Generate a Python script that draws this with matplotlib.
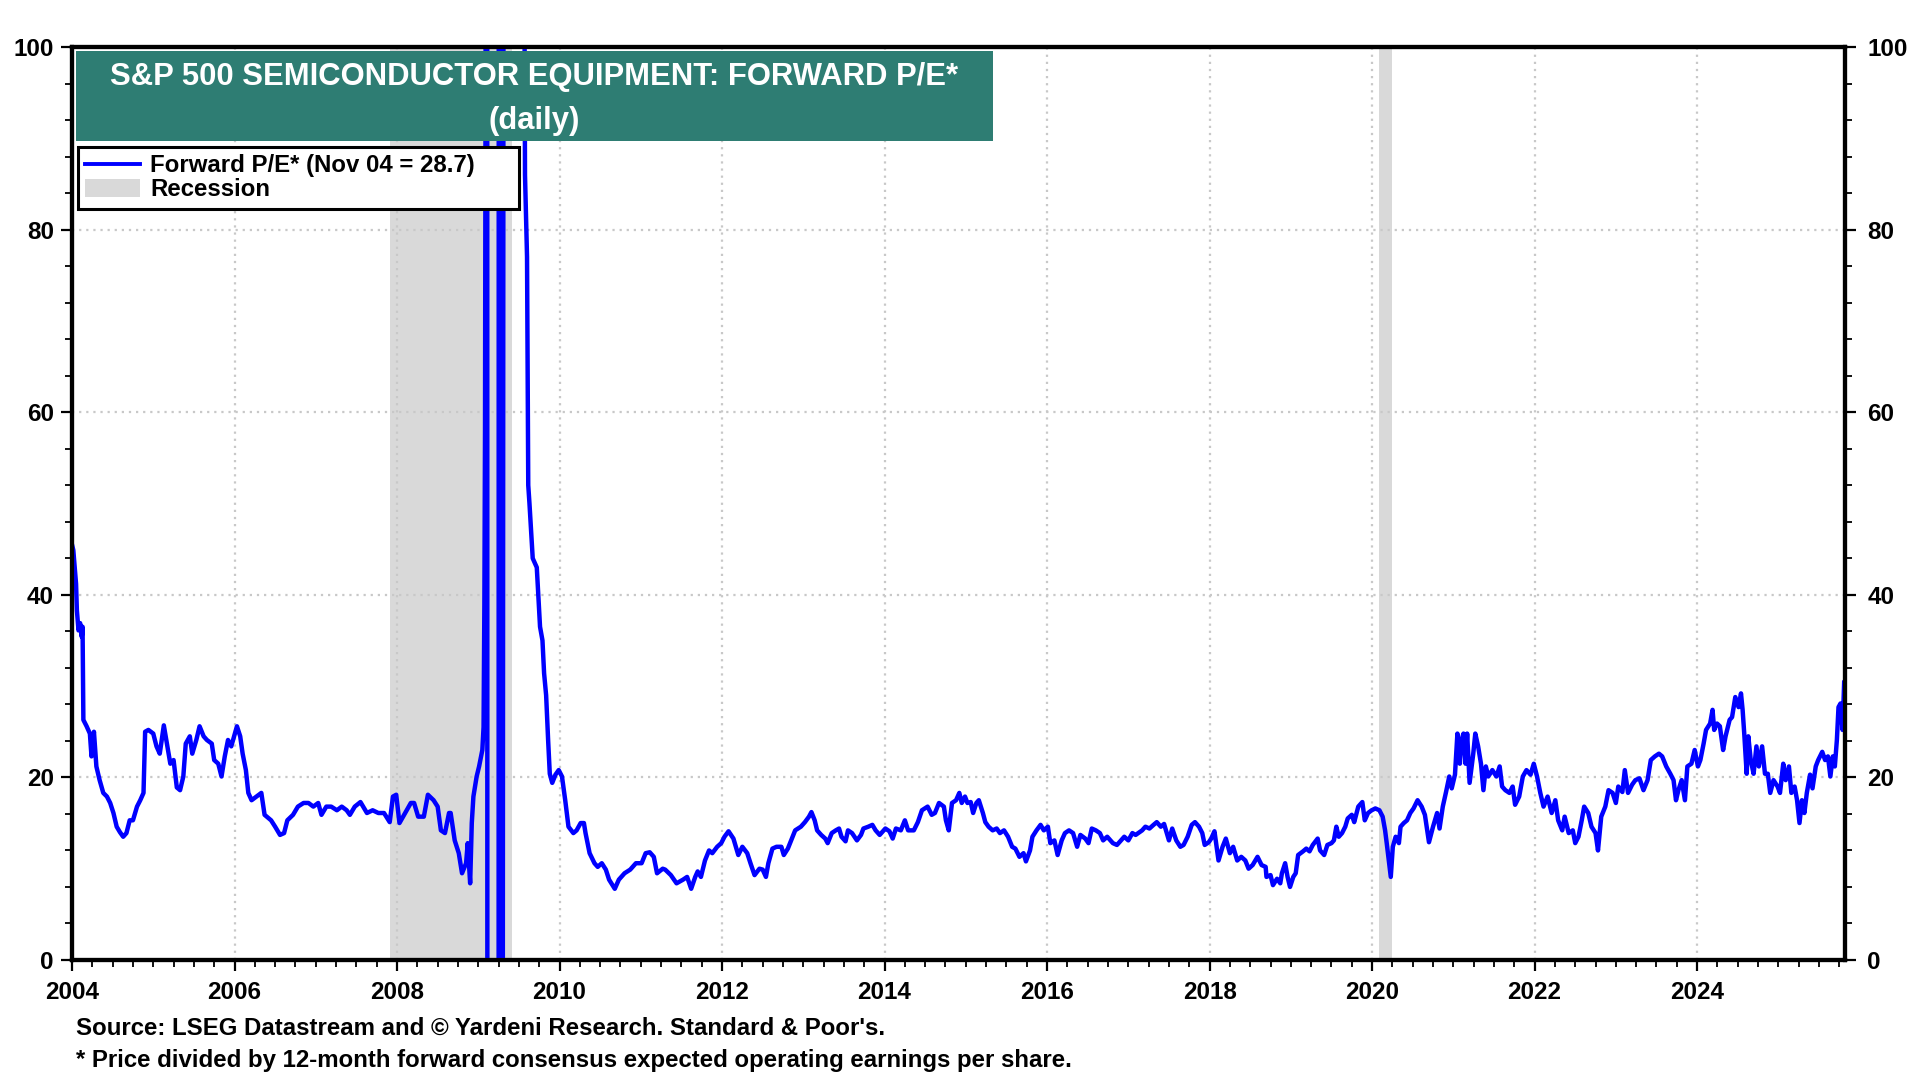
import numpy as np
import matplotlib
matplotlib.use("Agg")
import matplotlib.pyplot as plt
from matplotlib.patches import Rectangle, Patch
from matplotlib.lines import Line2D
from matplotlib.ticker import MultipleLocator

# forward P/E, dates as decimal years
years_04_08 = [
    2004.000, 2004.016, 2004.050, 2004.060, 2004.080, 2004.100, 2004.120, 2004.130,
    2004.140, 2004.180, 2004.220, 2004.240, 2004.270, 2004.300, 2004.340, 2004.385,
    2004.430, 2004.470, 2004.510, 2004.550, 2004.590, 2004.630, 2004.670, 2004.710,
    2004.750, 2004.800, 2004.840, 2004.880, 2004.900, 2004.940, 2005.000, 2005.040,
    2005.080, 2005.130, 2005.160, 2005.210, 2005.250, 2005.290, 2005.330, 2005.370,
    2005.400, 2005.450, 2005.480, 2005.530, 2005.570, 2005.620, 2005.660, 2005.720,
    2005.750, 2005.800, 2005.840, 2005.880, 2005.920, 2005.960, 2006.030, 2006.070,
    2006.100, 2006.140, 2006.170, 2006.210, 2006.270, 2006.330, 2006.370, 2006.450,
    2006.500, 2006.560, 2006.610, 2006.650, 2006.720, 2006.780, 2006.850, 2006.910,
    2006.970, 2007.030, 2007.070, 2007.130, 2007.190, 2007.260, 2007.320, 2007.380,
    2007.420, 2007.480, 2007.550, 2007.630, 2007.700, 2007.770, 2007.840, 2007.910,
    2007.950, 2007.990, 2008.030, 2008.100, 2008.170, 2008.210, 2008.260, 2008.330,
    2008.380, 2008.450, 2008.500, 2008.540, 2008.590, 2008.640, 2008.660, 2008.710,
    2008.760, 2008.800, 2008.850, 2008.870, 2008.900, 2008.920, 2008.940, 2008.980,
]
pe_04_08 = [
    45.5, 44.9, 41.2, 38.3, 36.1, 36.9, 35.4, 36.5,
    26.3, 25.6, 24.8, 22.3, 25.0, 21.2, 19.7, 18.3,
    17.9, 17.2, 16.1, 14.6, 14.0, 13.5, 13.9, 15.3,
    15.3, 16.8, 17.5, 18.3, 25.0, 25.2, 24.8, 23.4,
    22.6, 25.7, 24.1, 21.5, 21.9, 18.9, 18.6, 20.1,
    23.7, 24.5, 22.6, 24.1, 25.6, 24.5, 24.1, 23.7,
    21.9, 21.5, 20.1, 22.3, 24.1, 23.4, 25.6, 24.5,
    22.6, 20.8, 18.3, 17.5, 17.9, 18.3, 15.9, 15.3,
    14.6, 13.7, 13.9, 15.3, 15.9, 16.8, 17.2, 17.2,
    16.8, 17.2, 15.9, 16.8, 16.8, 16.4, 16.8, 16.4,
    15.9, 16.8, 17.3, 16.1, 16.4, 16.1, 16.1, 15.1,
    17.9, 18.1, 15.0, 16.1, 17.2, 17.2, 15.7, 15.7,
    18.1, 17.5, 16.8, 14.2, 13.9, 16.1, 16.1, 13.1,
    11.7, 9.5, 10.6, 12.8, 8.4, 15.0, 17.9, 20.1,
]

# early 2009: earnings near zero, ratio swings far outside the 0-100 scale
years_09_10 = [
    2009.010, 2009.050, 2009.065, 2009.075, 2009.083, 2009.095, 2009.110, 2009.112,
    2009.250, 2009.252, 2009.266, 2009.268, 2009.283, 2009.285, 2009.298, 2009.300,
    2009.312, 2009.560, 2009.575, 2009.600,
    2009.615, 2009.630, 2009.650, 2009.670, 2009.720, 2009.745, 2009.760, 2009.790,
    2009.810, 2009.835, 2009.860, 2009.880, 2009.910, 2009.950, 2009.990, 2010.030,
    2010.070, 2010.110, 2010.170, 2010.210, 2010.260, 2010.300, 2010.320, 2010.370,
    2010.430, 2010.470, 2010.520, 2010.570, 2010.610, 2010.680, 2010.730, 2010.800,
    2010.870, 2010.940, 2011.010, 2011.060, 2011.110, 2011.160, 2011.200,
]
pe_09_10 = [
    21.2, 23.0, 25.5, 39.0, 58.0, 130.0, 130.0, -30.0,
    -30.0, 130.0, 130.0, -30.0, -30.0, 130.0, 130.0, -30.0,
    130.0, 130.0, 86.0, 77.0,
    52.0, 50.0, 47.0, 44.0, 43.0, 39.0, 36.5, 35.0,
    31.4, 29.0, 24.0, 20.4, 19.4, 20.3, 20.8, 20.1,
    17.5, 14.6, 13.9, 14.2, 15.0, 15.0, 13.9, 11.7,
    10.6, 10.2, 10.6, 9.9, 8.8, 7.8, 8.8, 9.5,
    9.9, 10.6, 10.6, 11.7, 11.8, 11.3, 9.5,
]

years_11_18 = [
    2011.270, 2011.300, 2011.370, 2011.440, 2011.520, 2011.570, 2011.620, 2011.670,
    2011.700, 2011.740, 2011.790, 2011.840, 2011.880, 2011.940, 2011.990, 2012.030,
    2012.080, 2012.140, 2012.200, 2012.250, 2012.310, 2012.350, 2012.400, 2012.460,
    2012.500, 2012.540, 2012.570, 2012.620, 2012.670, 2012.730, 2012.760, 2012.810,
    2012.860, 2012.900, 2012.970, 2013.020, 2013.070, 2013.100, 2013.140, 2013.170,
    2013.220, 2013.270, 2013.300, 2013.350, 2013.400, 2013.440, 2013.470, 2013.520,
    2013.550, 2013.600, 2013.660, 2013.710, 2013.740, 2013.800, 2013.850, 2013.890,
    2013.940, 2014.010, 2014.060, 2014.100, 2014.140, 2014.200, 2014.250, 2014.290,
    2014.360, 2014.410, 2014.460, 2014.530, 2014.580, 2014.620, 2014.670, 2014.730,
    2014.755, 2014.790, 2014.830, 2014.880, 2014.920, 2014.950, 2014.990, 2015.020,
    2015.060, 2015.090, 2015.130, 2015.160, 2015.210, 2015.240, 2015.280, 2015.330,
    2015.380, 2015.420, 2015.470, 2015.520, 2015.570, 2015.610, 2015.660, 2015.710,
    2015.740, 2015.790, 2015.820, 2015.870, 2015.920, 2015.960, 2016.010, 2016.040,
    2016.090, 2016.130, 2016.180, 2016.220, 2016.270, 2016.320, 2016.370, 2016.410,
    2016.470, 2016.510, 2016.550, 2016.600, 2016.650, 2016.690, 2016.740, 2016.810,
    2016.860, 2016.910, 2016.950, 2017.000, 2017.050, 2017.090, 2017.170, 2017.210,
    2017.260, 2017.310, 2017.350, 2017.400, 2017.440, 2017.500, 2017.540, 2017.590,
    2017.640, 2017.680, 2017.730, 2017.780, 2017.820, 2017.870, 2017.910, 2017.940,
    2017.990, 2018.020, 2018.060, 2018.110, 2018.160, 2018.200, 2018.250, 2018.290,
    2018.340, 2018.390, 2018.440, 2018.480, 2018.530,
]
pe_11_18 = [
    10.0, 9.9, 9.3, 8.4, 8.8, 9.1, 7.8, 9.1,
    9.7, 9.1, 10.9, 12.0, 11.7, 12.4, 12.8, 13.5,
    14.1, 13.3, 11.5, 12.4, 11.7, 10.6, 9.3, 10.0,
    9.9, 9.1, 10.6, 12.2, 12.4, 12.4, 11.5, 12.2,
    13.3, 14.2, 14.6, 15.1, 15.7, 16.2, 15.3, 14.2,
    13.7, 13.3, 12.8, 13.9, 14.2, 14.4, 13.5, 13.0,
    14.2, 13.9, 13.1, 13.7, 14.4, 14.6, 14.8, 14.2,
    13.7, 14.4, 14.1, 13.3, 14.4, 14.2, 15.3, 14.2,
    14.2, 15.1, 16.4, 16.8, 15.9, 16.1, 17.2, 16.8,
    15.3, 14.2, 17.2, 17.5, 18.3, 17.2, 17.9, 17.2,
    17.3, 16.1, 17.2, 17.5, 16.1, 15.1, 14.6, 14.2,
    14.4, 13.9, 14.2, 13.5, 12.4, 12.2, 11.3, 11.7,
    10.8, 12.0, 13.5, 14.2, 14.8, 14.2, 14.6, 12.8,
    13.1, 11.5, 13.1, 13.9, 14.2, 13.9, 12.4, 13.7,
    13.3, 12.8, 14.4, 14.2, 13.9, 13.1, 13.5, 12.8,
    12.6, 13.1, 13.5, 13.1, 13.9, 13.7, 14.2, 14.6,
    14.4, 14.8, 15.1, 14.6, 14.9, 13.1, 14.4, 13.1,
    12.4, 12.6, 13.5, 14.8, 15.1, 14.6, 13.9, 12.6,
    12.9, 13.3, 14.1, 10.9, 12.4, 13.3, 11.7, 12.4,
    10.9, 11.3, 10.9, 10.0, 10.4,
]

years_18_25 = [
    2018.590, 2018.640, 2018.690, 2018.700, 2018.750, 2018.780, 2018.830, 2018.870,
    2018.890, 2018.930, 2018.960, 2018.990, 2019.030, 2019.060, 2019.090, 2019.150,
    2019.190, 2019.230, 2019.270, 2019.330, 2019.360, 2019.410, 2019.450, 2019.500,
    2019.530, 2019.560, 2019.590, 2019.630, 2019.670, 2019.700, 2019.750, 2019.780,
    2019.830, 2019.880, 2019.910, 2019.950, 2019.995, 2020.040, 2020.090, 2020.130,
    2020.160, 2020.180, 2020.210, 2020.230, 2020.255, 2020.290, 2020.330, 2020.350,
    2020.390, 2020.430, 2020.470, 2020.510, 2020.560, 2020.610, 2020.650, 2020.700,
    2020.750, 2020.800, 2020.830, 2020.870, 2020.910, 2020.950, 2020.980, 2021.020,
    2021.050, 2021.080, 2021.100, 2021.125, 2021.150, 2021.170, 2021.200, 2021.220,
    2021.245, 2021.270, 2021.305, 2021.340, 2021.370, 2021.400, 2021.430, 2021.480,
    2021.530, 2021.570, 2021.600, 2021.640, 2021.690, 2021.730, 2021.760, 2021.810,
    2021.855, 2021.900, 2021.950, 2021.990, 2022.030, 2022.070, 2022.110, 2022.160,
    2022.210, 2022.255, 2022.290, 2022.340, 2022.370, 2022.420, 2022.470, 2022.500,
    2022.540, 2022.580, 2022.610, 2022.660, 2022.700, 2022.750, 2022.780, 2022.820,
    2022.870, 2022.910, 2022.960, 2023.000, 2023.030, 2023.080, 2023.110, 2023.150,
    2023.200, 2023.240, 2023.290, 2023.340, 2023.390, 2023.430, 2023.480, 2023.530,
    2023.570, 2023.620, 2023.670, 2023.710, 2023.740, 2023.770, 2023.810, 2023.850,
    2023.880, 2023.930, 2023.970, 2024.010, 2024.040, 2024.080, 2024.110, 2024.160,
    2024.190, 2024.210, 2024.245, 2024.280, 2024.320, 2024.350, 2024.400, 2024.430,
    2024.470, 2024.510, 2024.540, 2024.560, 2024.580, 2024.610, 2024.630, 2024.660,
    2024.695, 2024.730, 2024.760, 2024.800, 2024.835, 2024.870, 2024.900, 2024.940,
    2024.990, 2025.020, 2025.060, 2025.090, 2025.130, 2025.160, 2025.200, 2025.230,
    2025.260, 2025.290, 2025.320, 2025.350, 2025.390, 2025.420, 2025.460, 2025.490,
    2025.540, 2025.575, 2025.610, 2025.640, 2025.670, 2025.695, 2025.720, 2025.740,
    2025.765, 2025.790, 2025.810, 2025.818,
]
pe_18_25 = [
    11.3, 10.4, 10.2, 9.1, 9.3, 8.2, 8.9, 8.4,
    9.5, 10.6, 9.1, 8.0, 9.1, 9.5, 11.5, 11.9,
    12.2, 11.9, 12.6, 13.3, 12.0, 11.5, 12.6, 12.8,
    13.1, 14.6, 13.5, 13.9, 14.6, 15.5, 15.9, 15.1,
    16.8, 17.3, 15.3, 16.1, 16.4, 16.6, 16.4, 15.7,
    14.2, 12.8, 10.6, 9.1, 12.4, 13.5, 12.8, 14.6,
    15.0, 15.3, 16.1, 16.6, 17.5, 16.8, 15.9, 12.9,
    14.6, 16.1, 14.4, 16.8, 18.4, 20.1, 18.8, 20.3,
    24.8, 21.5, 24.1, 24.8, 21.5, 24.8, 19.4, 20.8,
    22.6, 24.8, 23.4, 21.5, 18.6, 21.2, 20.1, 20.8,
    20.1, 21.2, 19.0, 18.6, 18.3, 19.0, 17.0, 17.9,
    20.1, 20.8, 20.3, 21.5, 20.1, 18.3, 16.8, 17.9,
    16.1, 17.5, 15.3, 14.2, 15.7, 13.9, 14.2, 12.8,
    13.5, 15.3, 16.8, 16.1, 14.6, 13.9, 12.0, 15.7,
    16.8, 18.6, 18.3, 17.2, 19.0, 18.4, 20.8, 18.3,
    19.2, 19.7, 19.9, 18.6, 19.7, 21.9, 22.3, 22.6,
    22.3, 21.2, 20.4, 19.7, 17.5, 18.6, 19.7, 17.5,
    21.2, 21.5, 23.0, 21.2, 21.9, 23.7, 25.2, 25.9,
    27.4, 25.2, 25.9, 25.6, 23.0, 24.5, 26.3, 26.6,
    28.8, 27.7, 29.2, 27.4, 24.8, 20.4, 24.5, 21.9,
    20.4, 23.4, 21.2, 23.4, 20.4, 20.4, 18.3, 19.7,
    19.0, 18.3, 21.5, 19.7, 21.2, 18.3, 19.0, 17.5,
    15.0, 17.5, 16.1, 18.3, 20.3, 18.8, 21.2, 21.9,
    22.8, 21.9, 22.3, 20.1, 22.3, 21.2, 24.1, 27.7,
    28.1, 25.2, 30.5, 28.7,
]

recessions = [(2007.917, 2009.417), (2020.083, 2020.25)]

title_line1 = "S&P 500 SEMICONDUCTOR EQUIPMENT: FORWARD P/E*"
title_line2 = "(daily)"
series_label = "Forward P/E* (Nov 04 = 28.7)"
footnote1 = "Source: LSEG Datastream and \u00a9 Yardeni Research. Standard & Poor's."
footnote2 = "* Price divided by 12-month forward consensus expected operating earnings per share."

years = years_04_08 + years_09_10 + years_11_18 + years_18_25
pe = pe_04_08 + pe_09_10 + pe_11_18 + pe_18_25

plt.rcParams['font.family'] = ['Liberation Sans', 'DejaVu Sans']
plt.rcParams['font.weight'] = 'bold'

W, H = 1920, 1080
fig = plt.figure(figsize=(19.2, 10.8), dpi=100)
ax = fig.add_axes([72 / W, 1 - 960 / H, (1845 - 72) / W, (960 - 47) / H])

for start, end in recessions:
    ax.axvspan(start, end, color='#d9d9d9', lw=0, zorder=0)

ax.plot(years, pe, color='#0000ff', lw=3.2, zorder=3)

ax.set_xlim(2004, 2025.82)
ax.set_ylim(0, 100)
ax.set_xticks(np.arange(2004, 2026, 2))
ax.set_xticklabels([str(y) for y in range(2004, 2026, 2)])
ax.xaxis.set_minor_locator(MultipleLocator(0.25))
ax.set_yticks(np.arange(0, 101, 20))
ax.yaxis.set_minor_locator(MultipleLocator(4))
ax.grid(True, which='major', color='#c8c8c8', lw=1.6, linestyle=(0, (1, 2.2)), zorder=1)

for s in ax.spines.values():
    s.set_linewidth(3)
ax.tick_params(which='major', direction='out', length=8, width=1.6, labelsize=17.5, pad=5)
ax.tick_params(which='minor', direction='out', length=5, width=1.3)
ax.tick_params(axis='x', which='major', pad=7)

ax2 = ax.twinx()
ax2.set_ylim(0, 100)
ax2.set_yticks(np.arange(0, 101, 20))
ax2.yaxis.set_minor_locator(MultipleLocator(4))
ax2.tick_params(which='major', direction='out', length=8, width=1.6, labelsize=17.5, pad=8)
ax2.tick_params(which='minor', direction='out', length=5, width=1.3)
for s in ax2.spines.values():
    s.set_linewidth(3)

# title banner
fig.patches.append(Rectangle((76 / W, 1 - 141 / H), (993 - 76) / W, 90 / H,
                             transform=fig.transFigure, facecolor='#2e7d73',
                             edgecolor='none', zorder=5))
fig.text(534 / W, 1 - 77.5 / H, title_line1, color='white', fontsize=22.3,
         ha='center', va='center', zorder=6)
fig.text(534 / W, 1 - 120.5 / H, title_line2, color='white', fontsize=22.3,
         ha='center', va='center', zorder=6)

handles = [Line2D([], [], color='#0000ff', lw=2.8),
           Patch(facecolor='#d9d9d9', edgecolor='none')]
leg = ax2.legend(handles, [series_label, 'Recession'], loc='upper left',
                 bbox_to_anchor=(78 / W, 1 - 208 / H, 441 / W, 61 / H),
                 bbox_transform=fig.transFigure, mode='expand',
                 borderaxespad=0, fancybox=False, framealpha=1, edgecolor='black',
                 fontsize=17.3, handlelength=2.3, handleheight=0.75, handletextpad=0.4,
                 labelspacing=0.05, borderpad=0.3)
leg.get_frame().set_linewidth(2.2)
leg.set_zorder(10)

fig.text(76 / W, 1 - 1028 / H, footnote1, fontsize=17.3, ha='left', va='center')
fig.text(76 / W, 1 - 1061 / H, footnote2, fontsize=17.3, ha='left', va='center')

fig.savefig('out.png', dpi=100)
